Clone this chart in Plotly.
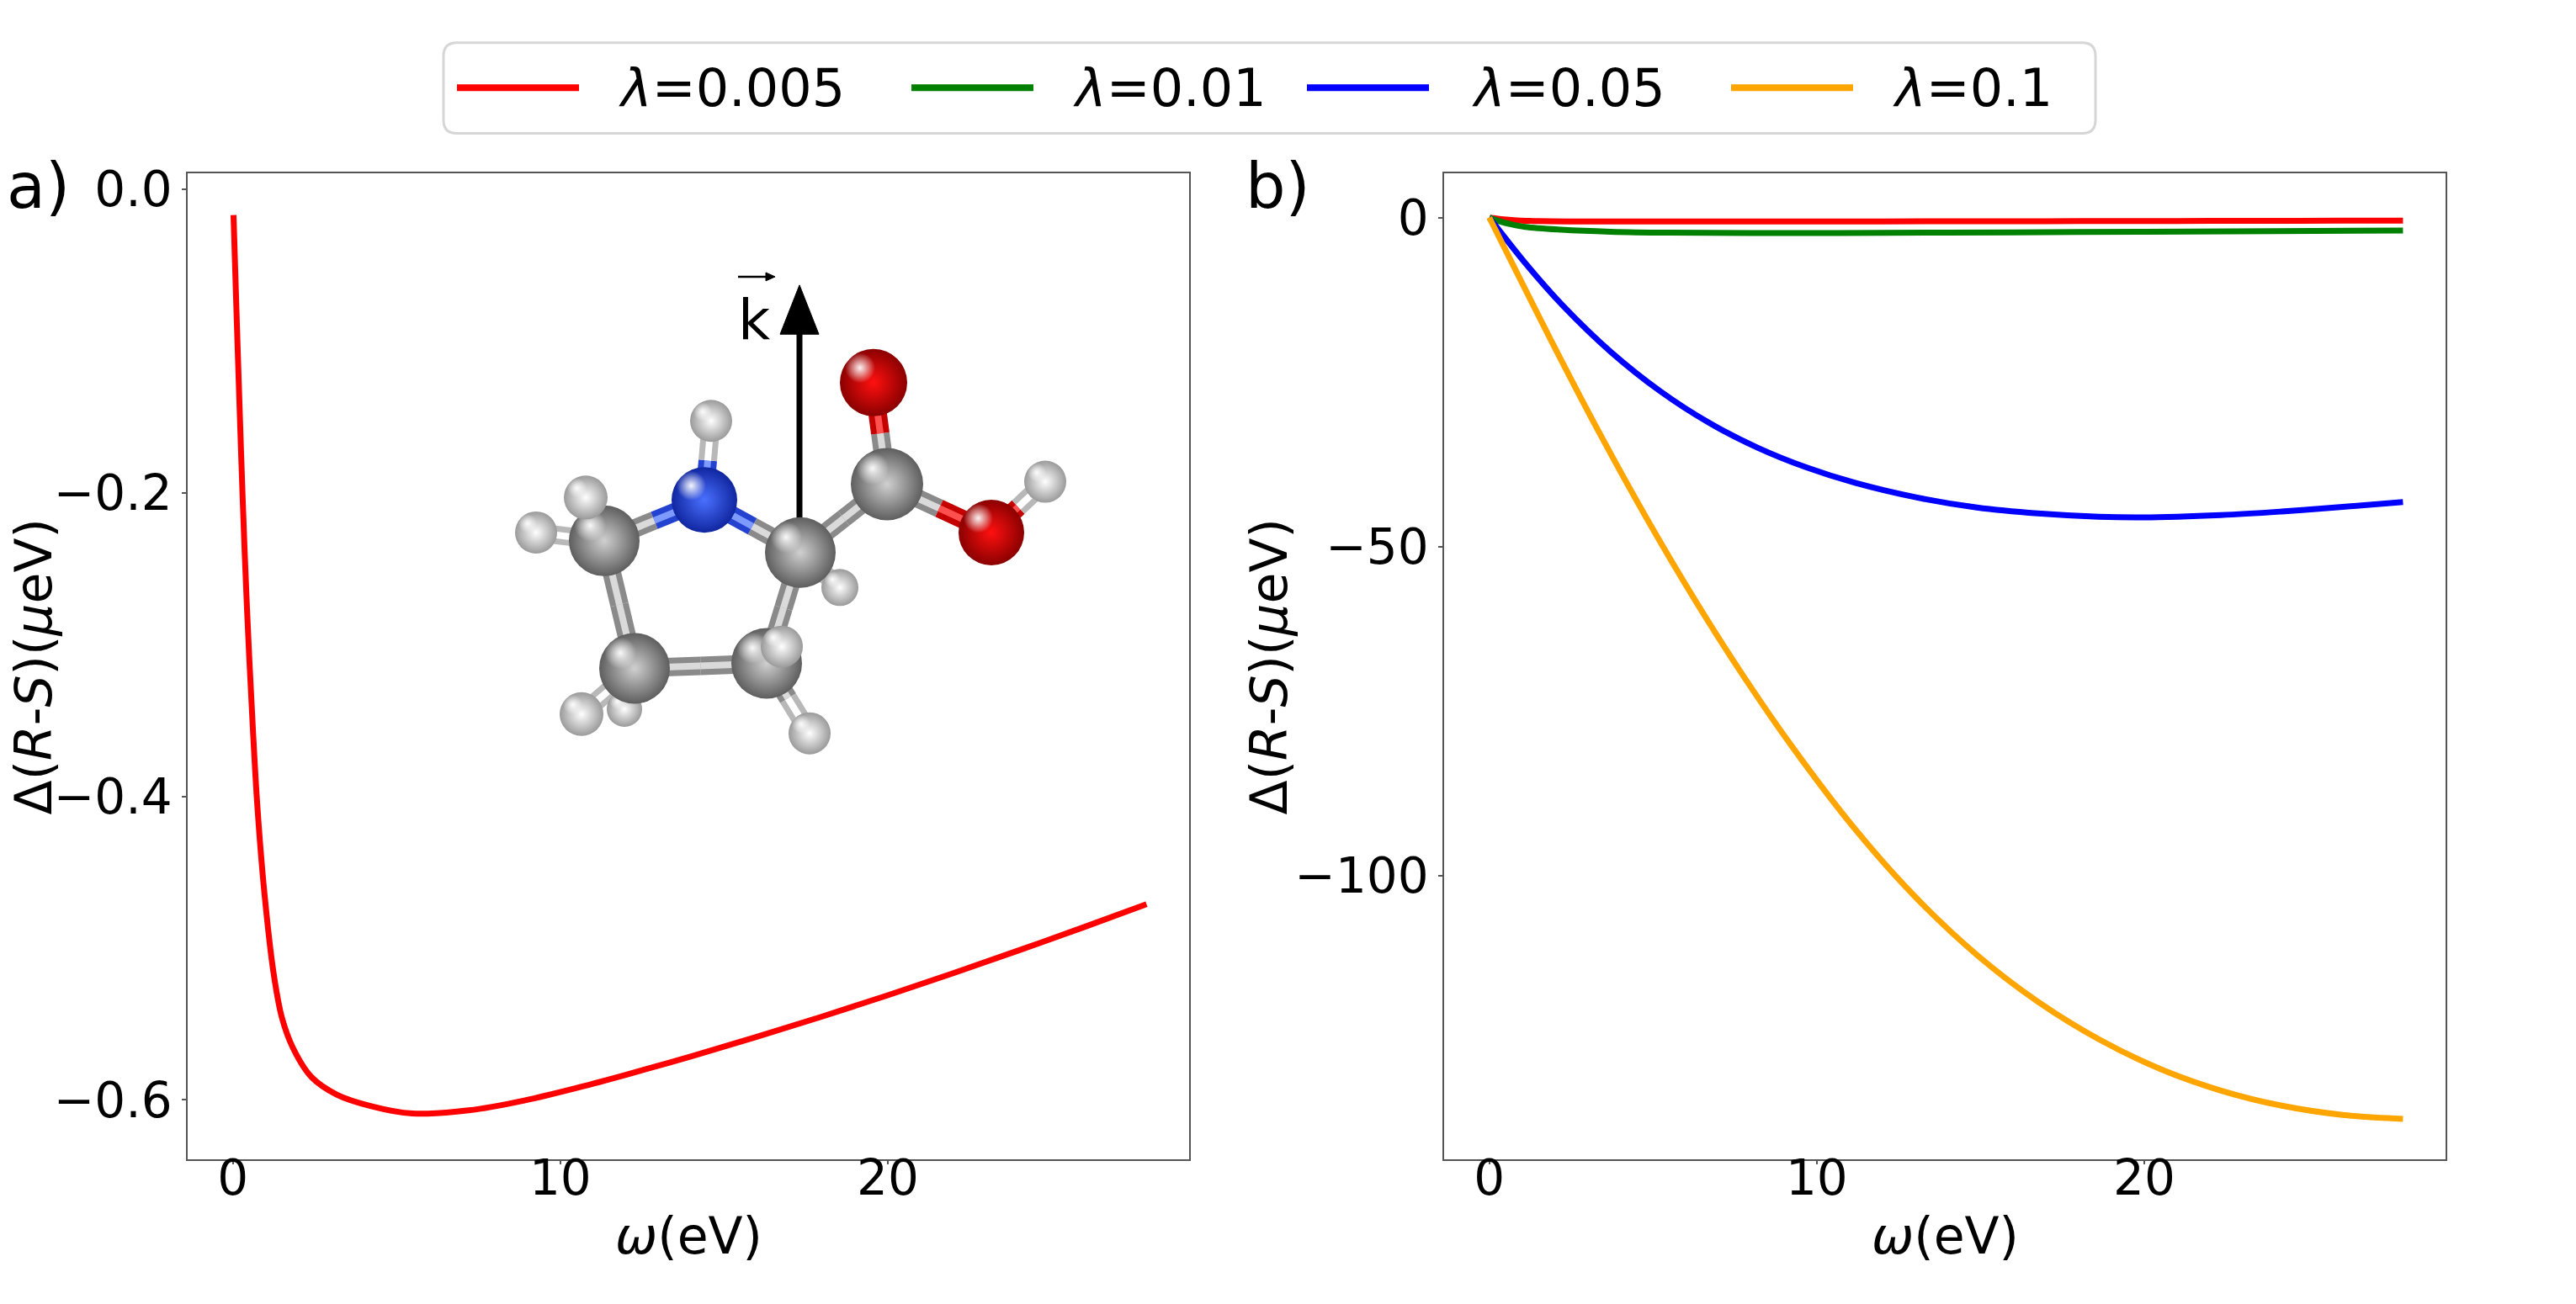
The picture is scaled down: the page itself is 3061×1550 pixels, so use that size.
import plotly.graph_objects as go

W, H = 3061, 1550

# lambda = 0.005 (panel a, also red curve of panel b)
omega_a = [0.02, 0.1, 0.18, 0.3, 0.43, 0.61, 0.75, 0.96, 1.24, 1.5, 1.84, 2.4, 3.17, 4.2,
           5.48, 7.2, 8.9, 10.6, 12.0, 14.0, 16.0, 18.0, 20.0, 22.0, 24.0, 26.0, 27.9]
dE_0005 = [-0.017, -0.073, -0.127, -0.204, -0.2755, -0.355, -0.407, -0.463, -0.516, -0.546,
           -0.566, -0.585, -0.5965, -0.604, -0.609, -0.6069, -0.6004, -0.5916, -0.5835, -0.5713,
           -0.5585, -0.5451, -0.5311, -0.5165, -0.5015, -0.4861, -0.4711]

omega_g = [0, 0.3, 0.6, 1.1, 2.2, 3.7, 5.5, 8.0, 12.0, 16.0, 20.0, 24.0, 27.9]
dE_001 = [0, -0.55, -0.95, -1.43, -1.85, -2.15, -2.3, -2.35, -2.33, -2.25, -2.17, -2.07, -1.97]

omega_b = [0, 1.12, 2.23, 3.72, 5.21, 6.70, 8.19, 9.68, 11.17, 13.03, 14.89, 16.75, 18.61,
           19.92, 22.34, 24.2, 26.06, 27.9]
dE_005 = [0, -7.06, -13.3, -20.45, -26.35, -31.15, -34.95, -37.95, -40.3, -42.5, -44.05,
          -44.95, -45.45, -45.55, -45.2, -44.65, -43.95, -43.2]

omega_o = [0, 1.86, 3.35, 4.84, 6.33, 7.82, 9.31, 11.17, 13.03, 14.89, 16.75, 18.61, 20.48,
           22.34, 24.2, 26.06, 27.9]
dE_01 = [0, -18.4, -32.6, -46.0, -58.5, -70.1, -80.8, -92.9, -103.3, -112.0, -119.1, -124.8,
         -129.3, -132.6, -134.9, -136.3, -136.9]

lam_labels = ["0.005", "0.01", "0.05", "0.1"]
line_colors = ["#ff0000", "#008000", "#0000ff", "#ffa500"]

x_ticks = [0, 10, 20]
ya_ticks = [0, -0.2, -0.4, -0.6]
yb_ticks = [0, -50, -100]

# molecule sketch (pixel positions on the page), drawn back to front
atom_names = ["HCa", "Hg2", "Hd2", "HO", "Hb2", "Cg", "Cb", "Cd", "Hd1", "Ca", "N", "HN",
              "Cc", "O1", "O2", "Hg1", "Hb1"]
atom_x = [998, 742, 637, 1242, 962, 754, 911, 718, 696, 951, 837, 845, 1054, 1038, 1178, 691, 929]
atom_y = [690, 836, 624, 563, 865, 787, 781, 634, 582, 648, 585, 490, 566, 444, 624, 842, 761]
atom_d = [44, 42, 50, 50, 50, 84, 84, 84, 52, 84, 78, 50, 86, 80, 78, 52, 50]
atom_kind = ["H", "H", "H", "H", "H", "C", "C", "C", "H", "C", "N", "H", "C", "O", "O", "H", "H"]
bonds = [("N", "Ca"), ("N", "Cd"), ("N", "HN"), ("Ca", "Cc"), ("Cc", "O1"), ("Cc", "O2"),
         ("O2", "HO"), ("Ca", "Cb"), ("Cb", "Cg"), ("Cg", "Cd"), ("Ca", "HCa"), ("Cd", "Hd1"),
         ("Cd", "Hd2"), ("Cg", "Hg1"), ("Cg", "Hg2"), ("Cb", "Hb1"), ("Cb", "Hb2")]

atom_outer = {"C": "#5e5e5e", "N": "#1026a0", "O": "#8a0000", "H": "#9a9a9a"}
atom_inner = {"C": "#d0d0d0", "N": "#4a70ff", "O": "#ff1010", "H": "#ffffff"}
bond_dark = {"C": "#8a8a8a", "N": "#2442d0", "O": "#c40000", "H": "#b8b8b8"}
bond_light = {"C": "#dadada", "N": "#7d9bff", "O": "#ff5050", "H": "#ffffff"}

FONT = "DejaVu Sans"


def add_molecule(fig):
    pos = {n: (x, y) for n, x, y in zip(atom_names, atom_x, atom_y)}
    kind = dict(zip(atom_names, atom_kind))
    for palette, width in [(bond_dark, 22), (bond_light, 8)]:
        segs = {k: ([], []) for k in palette}
        for a, b in bonds:
            (xa, ya), (xb, yb) = pos[a], pos[b]
            xm, ym = (xa + xb) / 2, (ya + yb) / 2
            for n, (x0, y0) in [(a, (xa, ya)), (b, (xb, yb))]:
                sx, sy = segs[kind[n]]
                sx += [x0, xm, None]
                sy += [y0, ym, None]
        for k, (sx, sy) in segs.items():
            if sx:
                fig.add_trace(go.Scatter(x=sx, y=sy, mode="lines", xaxis="x3", yaxis="y3",
                                         line=dict(color=palette[k], width=width),
                                         hoverinfo="skip", showlegend=False))
    xs, ys, sizes, outer, inner = [], [], [], [], []
    for x, y, d, k in zip(atom_x, atom_y, atom_d, atom_kind):
        xs += [x, x - 0.2 * d]
        ys += [y, y - 0.22 * d]
        sizes += [d, 0.45 * d]
        outer += [atom_outer[k], "rgba(255,255,255,0)"]
        inner += [atom_inner[k], "rgba(255,255,255,0.95)"]
    fig.add_trace(go.Scatter(x=xs, y=ys, mode="markers", xaxis="x3", yaxis="y3",
                             marker=dict(size=sizes, color=outer, opacity=1, line=dict(width=0),
                                         gradient=dict(type="radial", color=inner)),
                             hoverinfo="skip", showlegend=False))


fig = go.Figure()

fig.add_trace(go.Scatter(x=omega_a, y=dE_0005, mode="lines", xaxis="x", yaxis="y",
                         line=dict(color=line_colors[0], width=7, shape="spline", smoothing=1.0),
                         showlegend=False))

series_b = [(omega_a, dE_0005), (omega_g, dE_001), (omega_b, dE_005), (omega_o, dE_01)]
for (xs, ys), lab, col in zip(series_b, lam_labels, line_colors):
    fig.add_trace(go.Scatter(x=xs, y=ys, mode="lines", xaxis="x2", yaxis="y2", name=lab,
                             line=dict(color=col, width=7, shape="spline", smoothing=1.0),
                             showlegend=False))

add_molecule(fig)

axis_style = dict(showline=True, mirror=True, linecolor="#555555", linewidth=1.6,
                  ticks="outside", ticklen=5, tickwidth=1.5, tickcolor="#555555",
                  showgrid=False, zeroline=False,
                  tickfont=dict(family=FONT, size=58, color="black"))

fig.update_layout(
    width=W, height=H,
    margin=dict(l=0, r=0, t=0, b=0),
    paper_bgcolor="white", plot_bgcolor="rgba(0,0,0,0)",
    font=dict(family=FONT, color="black"),
    xaxis=dict(domain=[223 / W, 1413 / W], range=[-1.38, 29.2], tickvals=x_ticks,
               anchor="y", ticklabelstandoff=-34, **axis_style),
    yaxis=dict(domain=[1 - 1376 / H, 1 - 193 / H], range=[-0.639, 0.0104], tickvals=ya_ticks,
               tickformat=".1f", anchor="x", **axis_style),
    xaxis2=dict(domain=[1716 / W, 2906 / W], range=[-1.38, 29.2], tickvals=x_ticks,
                anchor="y2", ticklabelstandoff=-34, **axis_style),
    yaxis2=dict(domain=[1 - 1376 / H, 1 - 193 / H], range=[-143.0, 6.7], tickvals=yb_ticks,
                anchor="x2", **axis_style),
    xaxis3=dict(domain=[0, 1], range=[0, W], visible=False, anchor="y3", fixedrange=True),
    yaxis3=dict(domain=[0, 1], range=[H, 0], visible=False, anchor="x3", fixedrange=True),
)

shapes = []
# legend frame
x0, x1, y0, y1, r = 527, 2490, 36, 145, 16
path = (f"M{x0 + r},{y0} L{x1 - r},{y0} Q{x1},{y0} {x1},{y0 + r} L{x1},{y1 - r} "
        f"Q{x1},{y1} {x1 - r},{y1} L{x0 + r},{y1} Q{x0},{y1} {x0},{y1 - r} "
        f"L{x0},{y0 + r} Q{x0},{y0} {x0 + r},{y0} Z")
shapes.append(dict(type="path", path=path, xref="x3", yref="y3", fillcolor="white",
                   line=dict(color="#d6d6d6", width=3)))

legend_line_x = [543, 1083, 1553, 2057]
legend_text_x = [733, 1273, 1747, 2247]
annotations = []
for lx, tx, lab, col in zip(legend_line_x, legend_text_x, lam_labels, line_colors):
    shapes.append(dict(type="line", x0=lx, x1=lx + 145, y0=90, y1=90, xref="x3", yref="y3",
                       line=dict(color=col, width=8)))
    annotations.append(dict(x=tx, y=90, xref="x3", yref="y3", text=f"<i>λ</i>={lab}",
                            showarrow=False, xanchor="left", yanchor="middle",
                            font=dict(family=FONT, size=62, color="black")))

# wave vector arrow
shapes.append(dict(type="line", x0=950, x1=950, y0=617, y1=380, xref="x3", yref="y3",
                   layer="below", line=dict(color="black", width=7)))
shapes.append(dict(type="path", path="M927,386 L973,386 L950,327 Z", xref="x3", yref="y3",
                   fillcolor="black", line=dict(color="black", width=1)))
shapes.append(dict(type="line", x0=877, x1=914, y0=317, y1=317, xref="x3", yref="y3",
                   line=dict(color="black", width=2.5)))
shapes.append(dict(type="path", path="M910,312 L921,317 L910,322 Z", xref="x3", yref="y3",
                   fillcolor="black", line=dict(color="black", width=1)))
annotations.append(dict(x=896, y=369, xref="x3", yref="y3", text="k", showarrow=False,
                        xanchor="center", yanchor="middle",
                        font=dict(family=FONT, size=66, color="black")))

title_font = dict(family=FONT, size=60, color="black")
for cx in [818, 2311]:
    annotations.append(dict(x=cx, y=1468, xref="x3", yref="y3", text="<i>ω</i>(eV)",
                            showarrow=False, xanchor="center", yanchor="middle", font=title_font))
for cx in [40, 1508]:
    annotations.append(dict(x=cx, y=785, xref="x3", yref="y3",
                            text="Δ(<i>R</i>-<i>S</i>)(<i>μ</i>eV)", textangle=-90,
                            showarrow=False, xanchor="center", yanchor="middle", font=title_font))
for px, lab in [(6, "a)"), (1478, "b)")]:
    annotations.append(dict(x=px, y=208, xref="x3", yref="y3", text=lab, showarrow=False,
                            xanchor="left", yanchor="middle",
                            font=dict(family=FONT, size=75, color="black")))

fig.update_layout(shapes=shapes, annotations=annotations)

fig.write_html("out.html", config={"displayModeBar": False},
               post_script="document.body.style.margin='0';")
